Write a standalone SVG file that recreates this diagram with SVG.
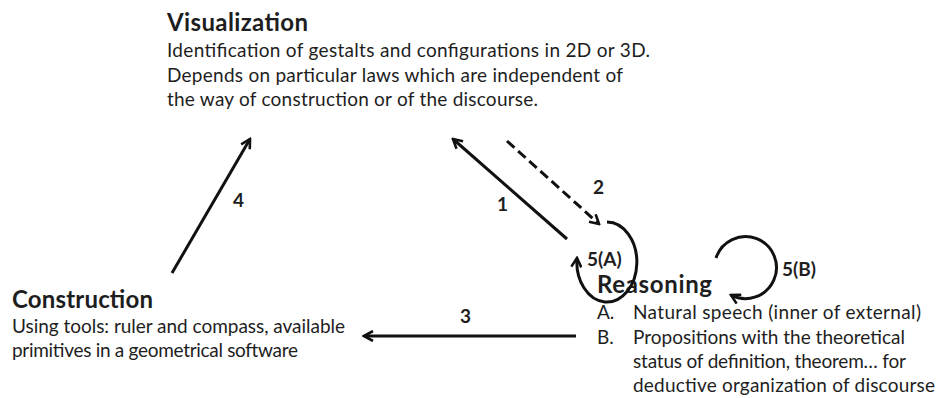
<svg xmlns="http://www.w3.org/2000/svg" width="936" height="398" viewBox="0 0 936 398">
<style>
  .h { font-family: Lato, "Liberation Sans", sans-serif; font-weight: bold; font-size: 24px; fill: #1e1e1e; }
  .t { font-family: Lato, "Liberation Sans", sans-serif; font-size: 19px; fill: #1e1e1e; }
  .n { font-family: Lato, "Liberation Sans", sans-serif; font-weight: bold; font-size: 19px; fill: #1e1e1e; }
  .c { stroke: #111; stroke-width: 3; fill: none; }
  .d { stroke-dasharray: 10 5; }
</style>
<defs>
  <marker id="ah" viewBox="0 0 12 12" refX="10" refY="6" markerWidth="12" markerHeight="12" markerUnits="userSpaceOnUse" orient="auto">
    <path d="M1,1 L10,6 L1,11" fill="none" stroke="#111" stroke-width="2.6"/>
  </marker>
</defs>
<rect width="936" height="398" fill="#fff"/>
<g id="visualization">
  <text class="h" x="167" y="31" textLength="141">Visualization</text>
  <text class="t" x="167" y="57" textLength="483">Identification of gestalts and configurations in 2D or 3D.</text>
  <text class="t" x="167" y="82" textLength="456">Depends on particular laws which are independent of</text>
  <text class="t" x="167" y="106" textLength="371">the way of construction or of the discourse.</text>
</g>
<g id="construction">
  <text class="h" x="12" y="308" textLength="141">Construction</text>
  <text class="t" x="12" y="333" textLength="333">Using tools: ruler and compass, available</text>
  <text class="t" x="12" y="357" textLength="286">primitives in a geometrical software</text>
</g>
<g id="reasoning">
  <text class="h" x="597" y="293" textLength="115">Reasoning</text>
  <text class="t" x="597" y="319">A.</text>
  <text class="t" x="633" y="319" textLength="288">Natural speech (inner of external)</text>
  <text class="t" x="597" y="344">B.</text>
  <text class="t" x="633" y="344" textLength="272">Propositions with the theoretical</text>
  <text class="t" x="633" y="368" textLength="273">status of definition, theorem… for</text>
  <text class="t" x="633" y="392" textLength="302">deductive organization of discourse</text>
</g>
<g id="connectors">
  <line class="c" x1="172" y1="273" x2="250" y2="139" marker-end="url(#ah)"/>
  <line class="c" x1="567" y1="239" x2="453" y2="139" marker-end="url(#ah)"/>
  <line class="c d" x1="507" y1="141" x2="599" y2="224" marker-end="url(#ah)"/>
  <line class="c" x1="576" y1="336" x2="364" y2="336" marker-end="url(#ah)"/>
  <path class="c" d="M607,222 A30,40 0 1 1 577,258" marker-end="url(#ah)"/>
  <path class="c" d="M716,258 A31,31 0 1 1 731,295" marker-end="url(#ah)"/>
  <text class="n" x="233" y="207">4</text>
  <text class="n" x="497" y="211">1</text>
  <text class="n" x="593" y="194">2</text>
  <text class="n" x="460" y="323">3</text>
  <text class="n" x="587" y="266">5(A)</text>
  <text class="n" x="782" y="276">5(B)</text>
</g>
</svg>
